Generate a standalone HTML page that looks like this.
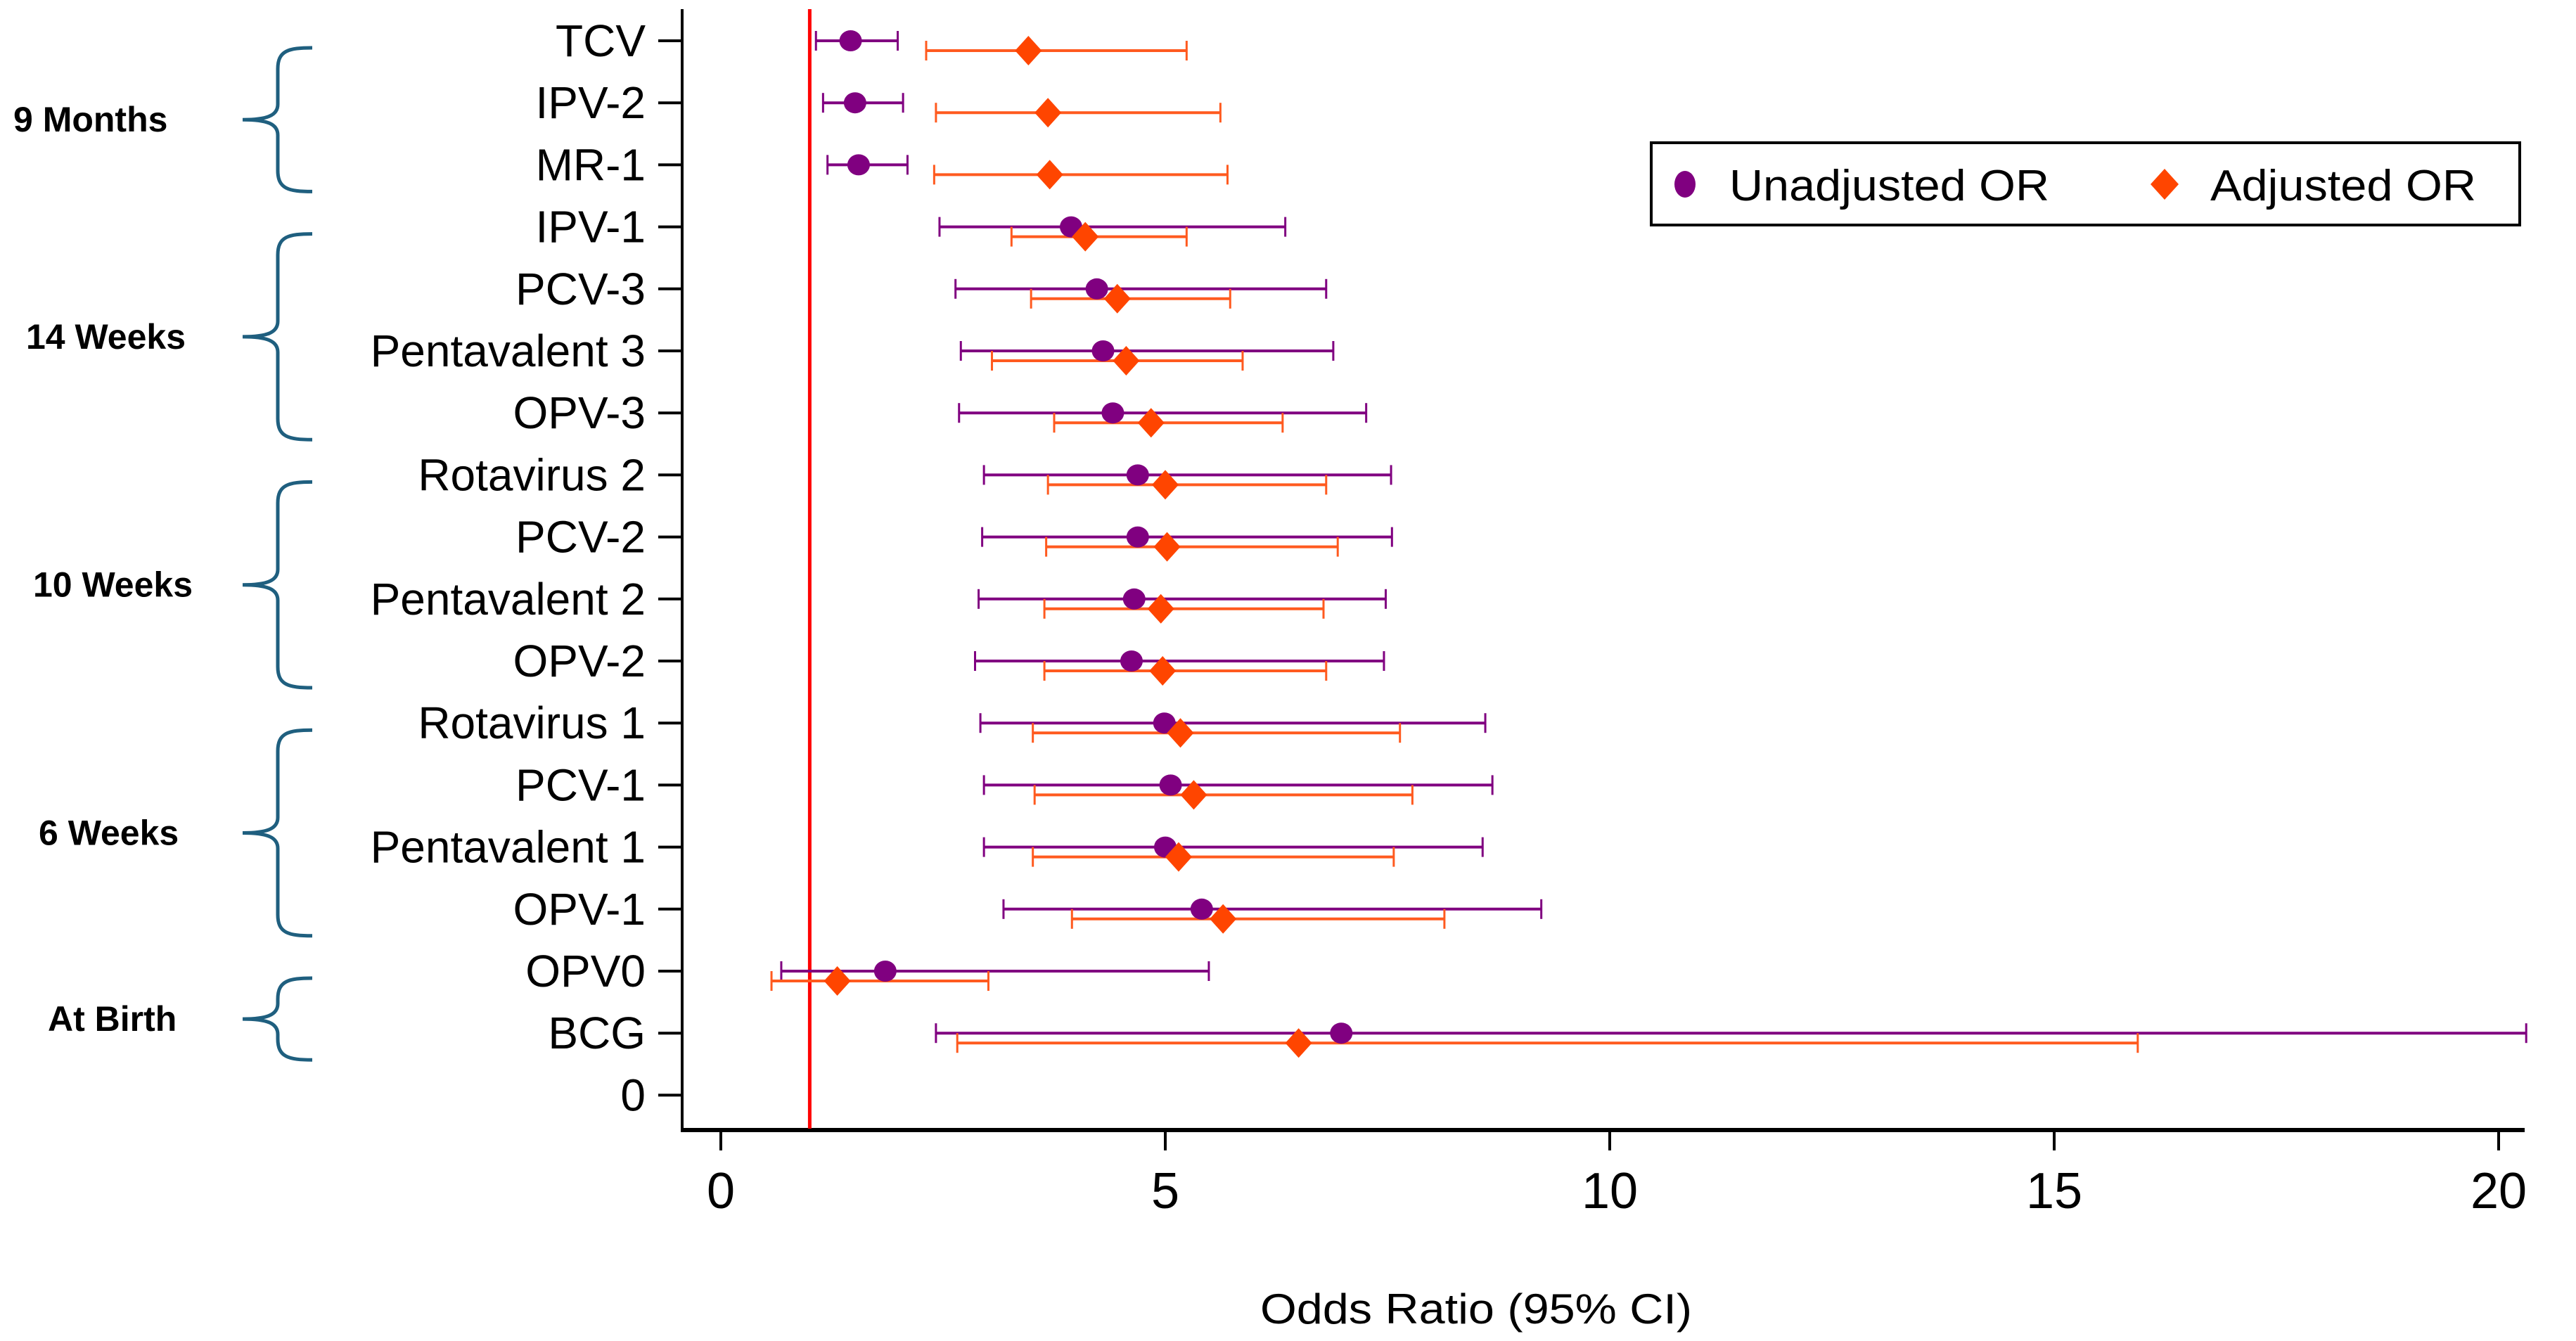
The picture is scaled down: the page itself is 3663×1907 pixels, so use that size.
<!DOCTYPE html>
<html><head><meta charset="utf-8"><style>
html,body{margin:0;padding:0;background:#fff}
svg{display:block}
text{font-family:"Liberation Sans",sans-serif}
</style></head><body>
<svg id="chart" width="3663" height="1907" viewBox="0 0 3663 1907" xmlns="http://www.w3.org/2000/svg">
<g id="braces"></g>
<g id="axes"></g>
<g id="marks"></g>
<g>
<rect x="2348" y="203" width="1235" height="117" fill="#fff" stroke="#000" stroke-width="4"/>
<ellipse cx="2396" cy="262" rx="15" ry="19" fill="#800080"/>
<text x="2459" y="285" font-size="62" textLength="455" lengthAdjust="spacingAndGlyphs">Unadjusted OR</text>
<polygon points="3078,240 3098,262 3078,284 3058,262" fill="#ff4500"/>
<text x="3143" y="285" font-size="62" textLength="378" lengthAdjust="spacingAndGlyphs">Adjusted OR</text>
</g>
<text x="1792" y="1882" font-size="60" textLength="614" lengthAdjust="spacingAndGlyphs">Odds Ratio (95% CI)</text>
</svg>
<script>
const categories=["TCV","IPV-2","MR-1","IPV-1","PCV-3","Pentavalent 3","OPV-3","Rotavirus 2","PCV-2","Pentavalent 2","OPV-2","Rotavirus 1","PCV-1","Pentavalent 1","OPV-1","OPV0","BCG","0"];
const unadjOR=[1.46,1.51,1.55,3.94,4.23,4.30,4.41,4.69,4.69,4.65,4.62,4.99,5.06,5.00,5.41,1.85,6.98];
const unadjLo=[1.07,1.15,1.20,2.46,2.64,2.70,2.68,2.96,2.94,2.90,2.86,2.92,2.96,2.96,3.18,0.68,2.42];
const unadjHi=[1.99,2.05,2.10,6.35,6.81,6.89,7.26,7.54,7.55,7.48,7.46,8.60,8.68,8.57,9.23,5.49,20.31];
const adjOR=[3.46,3.68,3.70,4.10,4.46,4.56,4.84,5.00,5.02,4.95,4.97,5.17,5.32,5.15,5.65,1.31,6.50];
const adjLo=[2.31,2.42,2.40,3.27,3.49,3.05,3.75,3.68,3.66,3.64,3.64,3.51,3.53,3.51,3.95,0.57,2.66];
const adjHi=[5.24,5.62,5.70,5.24,5.73,5.87,6.32,6.81,6.94,6.78,6.81,7.64,7.78,7.57,8.14,3.01,15.94];
const xTicks=[0,5,10,15,20];
const refValue=1;
const groups=[["9 Months",0,2],["14 Weeks",3,6],["10 Weeks",7,10],["6 Weeks",11,14],["At Birth",15,16]];

const NS="http://www.w3.org/2000/svg";
const X=v=>1025+v*126.4;
const Y=i=>58+i*88.2;
function mk(tag,attrs,parent,txt){const e=document.createElementNS(NS,tag);for(const k in attrs)e.setAttribute(k,attrs[k]);if(txt!==undefined)e.textContent=txt;parent.appendChild(e);return e;}
const axes=document.getElementById('axes'),marks=document.getElementById('marks'),braces=document.getElementById('braces');

let e=mk('line',{x1:970,y1:13,x2:970,y2:1608,stroke:'#000','stroke-width':4},axes);


e=mk('line',{x1:968,y1:1607,x2:3590,y2:1607,stroke:'#000','stroke-width':6},axes);


xTicks.forEach(t=>{
  let l=mk('line',{x1:X(t),y1:1607,x2:X(t),y2:1636,stroke:'#000','stroke-width':4},axes);
  
  
  let tx=mk('text',{x:X(t),y:1718,'font-size':72,'text-anchor':'middle'},axes,String(t));
  
  
});
categories.forEach((c,i)=>{
  let l=mk('line',{x1:936,y1:Y(i),x2:970,y2:Y(i),stroke:'#000','stroke-width':4},axes);
  
  
  let tx=mk('text',{x:918,y:Y(i)+22,'font-size':64,'text-anchor':'end'},axes,c);
  
  
});
e=mk('line',{x1:X(refValue),y1:13,x2:X(refValue),y2:1605,stroke:'#ff0000','stroke-width':5},axes);



const labelX={"9 Months":19,"14 Weeks":37,"10 Weeks":47,"6 Weeks":55,"At Birth":68};
groups.forEach(g=>{
  const top=Y(g[1])+10, bot=Y(g[2])+38, ym=(top+bot)/2;
  const d=`M444,${top} C410,${top} 395,${top+4} 395,${top+30} L395,${ym-22} C395,${ym-6} 380,${ym} 345,${ym} C380,${ym} 395,${ym+6} 395,${ym+22} L395,${bot-30} C395,${bot-4} 410,${bot} 444,${bot}`;
  let p=mk('path',{d:d,fill:'none',stroke:'#1f5f7f','stroke-width':5},braces);
  
  
  let tx=mk('text',{x:labelX[g[0]],y:ym+17,'font-size':50,'font-weight':'bold'},braces,g[0]);
  
  
});

function ci(lo,hi,y,col){
  let g=mk('g',{},marks);
  mk('line',{x1:X(lo),y1:y,x2:X(hi),y2:y,stroke:col,'stroke-width':4},g);
  mk('line',{x1:X(lo),y1:y-14,x2:X(lo),y2:y+14,stroke:col,'stroke-width':3},g);
  mk('line',{x1:X(hi),y1:y-14,x2:X(hi),y2:y+14,stroke:col,'stroke-width':3},g);
  return g;
}
unadjOR.forEach((v,i)=>{
  let g=ci(unadjLo[i],unadjHi[i],Y(i),'#800080');
  
  
});
adjOR.forEach((v,i)=>{
  let g=ci(adjLo[i],adjHi[i],Y(i)+14,'#ff5a1f');
  
  
});
unadjOR.forEach((v,i)=>{
  let c=mk('ellipse',{cx:X(v),cy:Y(i),rx:16,ry:15,fill:'#800080'},marks);
  
  
});
adjOR.forEach((v,i)=>{
  const x=X(v),y=Y(i)+14;
  let p=mk('polygon',{points:`${x},${y-21} ${x+19},${y} ${x},${y+21} ${x-19},${y}`,fill:'#ff4500'},marks);
  
  
});
</script>
</body></html>
